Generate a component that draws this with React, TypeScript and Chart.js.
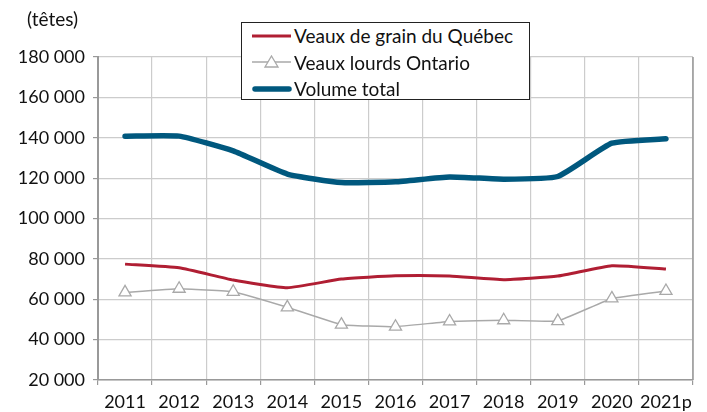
import React, { useEffect, useRef } from "react";
import { Chart, registerables } from "chart.js";

Chart.register(...registerables);

const categories = ["2011", "2012", "2013", "2014", "2015", "2016", "2017", "2018", "2019", "2020", "2021p"];
const veauxGrainQuebec = [77400, 75600, 69500, 65700, 70000, 71600, 71500, 69700, 71500, 76600, 75000];
const veauxLourdsOntario = [63400, 65200, 63700, 56000, 47400, 46400, 49000, 49600, 49200, 60400, 64100];
const volumeTotal = [140800, 140800, 133500, 122000, 117800, 118200, 120600, 119500, 120800, 137300, 139500];
const seriesNames = ["Veaux de grain du Québec", "Veaux lourds Ontario", "Volume total"];
const yUnitLabel = "(têtes)";

const RED = "#B01E33";
const GRAY = "#A9A9A9";
const BLUE = "#00587E";
const FONT = "Lato, 'Open Sans', sans-serif";

function fmt(v: number) {
  return String(v).replace(/\B(?=(\d{3})+(?!\d))/g, " ");
}

export default function App() {
  const ref = useRef<HTMLCanvasElement | null>(null);

  useEffect(() => {
    if (!ref.current) return;
    const chart = new Chart(ref.current, {
      type: "line",
      data: {
        labels: categories,
        datasets: [
          {
            label: seriesNames[0],
            data: veauxGrainQuebec,
            borderColor: RED,
            borderWidth: 3,
            pointRadius: 0,
            tension: 0.15,
            order: 2,
          },
          {
            label: seriesNames[1],
            data: veauxLourdsOntario,
            borderColor: GRAY,
            borderWidth: 1.5,
            pointStyle: "triangle",
            pointRadius: 7,
            pointBorderWidth: 1.3,
            pointBackgroundColor: "#ffffff",
            pointBorderColor: GRAY,
            tension: 0.08,
            order: 3,
          },
          {
            label: seriesNames[2],
            data: volumeTotal,
            borderColor: BLUE,
            borderWidth: 5.5,
            pointRadius: 0,
            tension: 0.15,
            borderCapStyle: "round",
            order: 1,
          },
        ],
      },
      options: {
        animation: false,
        responsive: false,
        maintainAspectRatio: false,
        layout: { padding: { top: 57, right: 14, left: 0, bottom: 0 } },
        plugins: { legend: { display: false }, tooltip: { enabled: false } },
        scales: {
          x: {
            offset: true,
            grid: {
              offset: true,
              color: "#cccccc",
              lineWidth: 1.2,
              tickLength: 5,
              drawTicks: true,
              tickColor: "#999999",
            },
            border: { color: "#999999", width: 1.5 },
            ticks: {
              color: "#111111",
              font: { family: FONT, size: 18 },
              padding: 6,
              maxRotation: 0,
              autoSkip: false,
            },
            afterFit: (s: any) => {
              s.height = 412 - 380;
            },
          },
          y: {
            min: 20000,
            max: 180000,
            ticks: {
              stepSize: 20000,
              color: "#111111",
              font: { family: FONT, size: 18 },
              padding: 8,
              callback: (v: any) => fmt(Number(v)),
            },
            grid: {
              color: "#cccccc",
              lineWidth: 1.2,
              tickLength: 5,
              tickColor: "#999999",
            },
            border: { color: "#999999", width: 2 },
            afterFit: (s: any) => {
              s.width = 98;
            },
          },
        },
      },
      plugins: [
        {
          id: "rightBorder",
          afterDraw(c: any) {
            const a = c.chartArea;
            const ctx = c.ctx;
            ctx.save();
            ctx.strokeStyle = "#999999";
            ctx.lineWidth = 1.5;
            ctx.beginPath();
            ctx.moveTo(a.right, a.top);
            ctx.lineTo(a.right, a.bottom);
            ctx.stroke();
            ctx.restore();
          },
        },
      ],
    } as any);
    return () => chart.destroy();
  }, []);

  const rowStyle: React.CSSProperties = {
    position: "absolute",
    left: 10,
    height: 27,
    display: "flex",
    alignItems: "center",
    whiteSpace: "nowrap",
  };

  return (
    <div style={{ position: "absolute", left: 0, top: 0, width: 707, height: 412, background: "#fff", fontFamily: FONT }}>
      <canvas ref={ref} width={707} height={412} style={{ position: "absolute", left: 0, top: 0, width: 707, height: 412 }} />
      <div style={{ position: "absolute", left: 27, top: 6, fontSize: 19, color: "#111", lineHeight: "26px" }}>{yUnitLabel}</div>
      <div
        style={{
          position: "absolute",
          left: 241,
          top: 22,
          width: 287,
          height: 76,
          border: "1px solid #222",
          background: "#fff",
          fontSize: 19,
          color: "#111",
        }}
      >
        {[0, 1, 2].map((i) => (
          <div key={i} style={{ ...rowStyle, top: -1 + i * 26.5 }}>
            <svg width={40} height={14} style={{ marginRight: 2 }}>
              {i === 0 && <line x1={0} y1={7} x2={39} y2={7} stroke={RED} strokeWidth={3} />}
              {i === 1 && (
                <g>
                  <line x1={0} y1={7} x2={39} y2={7} stroke={GRAY} strokeWidth={1.5} />
                  <polygon points="19.5,1 26,12 13,12" fill="#fff" stroke={GRAY} strokeWidth={1.3} />
                </g>
              )}
              {i === 2 && <line x1={3} y1={7} x2={37} y2={7} stroke={BLUE} strokeWidth={5.5} strokeLinecap="round" />}
            </svg>
            <span>{seriesNames[i]}</span>
          </div>
        ))}
      </div>
    </div>
  );
}
